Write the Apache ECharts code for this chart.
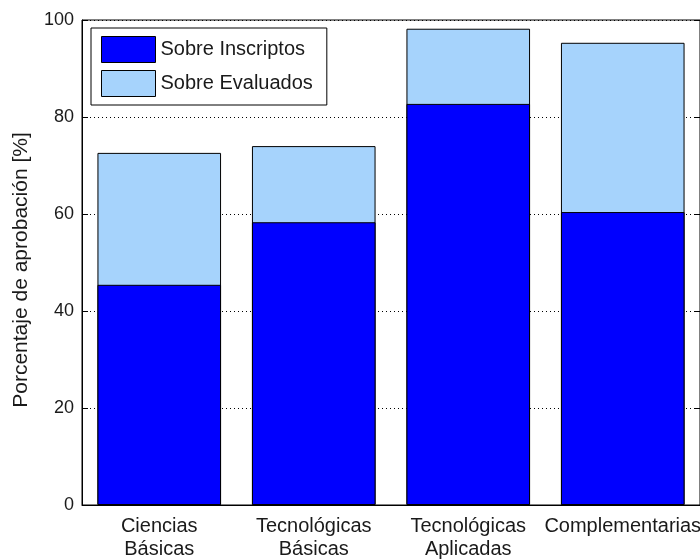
<!DOCTYPE html>
<html>
<head>
<meta charset="utf-8">
<script src="https://cdn.jsdelivr.net/npm/echarts@6/dist/echarts.min.js"></script>
<style>html,body{margin:0;padding:0;background:#fff}#c{width:700px;height:560px}</style>
</head>
<body>
<div id="c"></div>
<script>
var categories = ['Ciencias\nBásicas', 'Tecnológicas\nBásicas', 'Tecnológicas\nAplicadas', 'Complementarias'];
var sobreInscriptos = [45.4, 58.3, 82.7, 60.4];
var sobreEvaluados = [72.6, 74.0, 98.2, 95.3];
var yTicks = [0, 20, 40, 60, 80, 100];
var seriesNames = ['Sobre Inscriptos', 'Sobre Evaluados'];

var FONT = 'Liberation Sans';
var chart = echarts.init(document.getElementById('c'));
chart.setOption({
  animation: false,
  backgroundColor: '#fff',
  grid: { left: 82, top: 20, width: 618, height: 485, outerBoundsMode: 'none', containLabel: false,
    show: true, borderColor: '#000', borderWidth: 1, backgroundColor: 'transparent' },
  legend: {
    orient: 'vertical', left: 91, top: 28,
    data: seriesNames,
    backgroundColor: '#fff', borderColor: '#000', borderWidth: 1,
    padding: [8, 14, 8, 10], itemGap: 7, itemWidth: 54, itemHeight: 26,
    icon: 'rect',
    itemStyle: { borderColor: '#000', borderWidth: 1 },
    textStyle: { fontFamily: FONT, fontSize: 20, color: '#1a1a1a' }
  },
  xAxis: {
    type: 'category', data: categories,
    axisLine: { lineStyle: { color: '#000', width: 1 } },
    axisTick: { show: false },
    axisLabel: { fontFamily: FONT, fontSize: 20, color: '#1a1a1a', lineHeight: 23, margin: 10, interval: 0, hideOverlap: false }
  },
  yAxis: [{
    type: 'value', min: 0, max: 100, interval: 20, position: 'left',
    name: 'Porcentaje de aprobación [%]', nameLocation: 'middle', nameGap: 50,
    nameTextStyle: { fontFamily: FONT, fontSize: 21, color: '#1a1a1a', padding: [0, 15, 0, 0] },
    axisLine: { show: true, lineStyle: { color: '#000', width: 1 } },
    axisTick: { show: true, inside: true, length: 6, lineStyle: { color: '#000' } },
    axisLabel: { fontFamily: FONT, fontSize: 18, color: '#1a1a1a', margin: 8,
      formatter: function (v) { return yTicks.indexOf(v) >= 0 ? String(v) : ''; } },
    splitLine: { show: true, lineStyle: { color: '#000', type: [1, 3], width: 1 } }
  }, {
    type: 'value', min: 0, max: 100, interval: 20, position: 'right',
    axisLine: { show: true, lineStyle: { color: '#000', width: 1 } },
    axisTick: { show: true, inside: true, length: 6, lineStyle: { color: '#000' } },
    axisLabel: { show: false },
    splitLine: { show: false }
  }],
  series: [{
    name: seriesNames[1], type: 'bar', data: sobreEvaluados,
    barGap: '-100%', barCategoryGap: '20%',
    itemStyle: { color: '#a6d3fc', borderColor: '#000', borderWidth: 1 },
    z: 2
  }, {
    name: seriesNames[0], type: 'bar', data: sobreInscriptos,
    barGap: '-100%', barCategoryGap: '20%',
    itemStyle: { color: '#0000ff', borderColor: '#000', borderWidth: 1 },
    z: 3
  }]
});
</script>
</body>
</html>
